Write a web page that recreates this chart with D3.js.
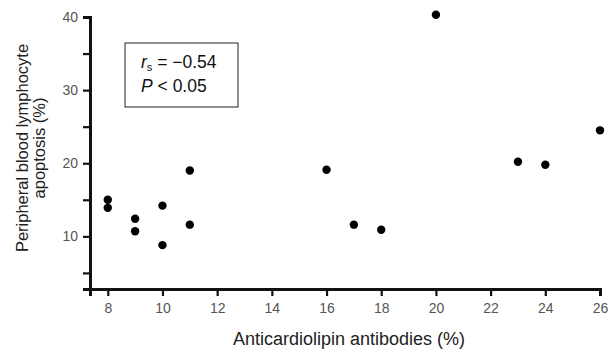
<!DOCTYPE html>
<html>
<head>
<meta charset="utf-8">
<script src="https://cdn.jsdelivr.net/npm/d3@7"></script>
<style>
	body { margin: 0; background: #fff; }
	svg { font-family: "Liberation Sans", Arial, sans-serif; }
</style>
</head>
<body>
<div id="chart"></div>
<script>
// Data
const antibodies = [8, 8, 9, 9, 10, 10, 11, 11, 16, 17, 18, 20, 23, 24, 26];
const apoptosis = [15, 13.9, 12.4, 10.7, 14.2, 8.8, 11.6, 19, 19.1, 11.6, 10.9, 40.3, 20.2, 19.8, 24.5];
const xTicks = [8, 10, 12, 14, 16, 18, 20, 22, 24, 26];
const yTicks = [10, 20, 30, 40];
const yMinorTicks = [5, 15, 25, 35];

const width = 612;
const height = 352;

const points = antibodies.map((a, i) => ({x: a, y: apoptosis[i]}));

const xScale = d3.scaleLinear()
	.domain([7.35, 26])
	.range([90, 600]);

const yScale = d3.scaleLinear()
	.domain([2.8, 40])
	.range([289, 17]);

const svg = d3.select('#chart')
	.append('svg')
	.attr('width', width)
	.attr('height', height);

// x-axis
svg.append('g')
	.attr('transform', `translate(0, ${yScale.range()[0]})`)
	.call(d3.axisBottom(xScale).tickValues(xTicks).tickSizeOuter(0).tickSize(7).tickPadding(7));

// y-axis, minor ticks first
svg.append('g')
	.attr('transform', `translate(${xScale.range()[0]}, 0)`)
	.call(d3.axisLeft(yScale).tickValues(yMinorTicks).tickFormat('').tickSizeOuter(0).tickSize(7));

svg.append('g')
	.attr('transform', `translate(${xScale.range()[0]}, 0)`)
	.call(d3.axisLeft(yScale).tickValues(yTicks).tickSizeOuter(0).tickSize(7).tickPadding(5));

svg.selectAll('.domain')
	.attr('stroke', '#111')
	.attr('stroke-width', 3);
svg.selectAll('.tick line')
	.attr('stroke', '#111')
	.attr('stroke-width', 2.2);
svg.selectAll('.tick text')
	.attr('fill', '#555')
	.attr('font-size', 14)
	.attr('font-family', '"Liberation Sans", Arial, sans-serif');

// axis titles
svg.append('text')
	.attr('x', 349)
	.attr('y', 345)
	.attr('text-anchor', 'middle')
	.attr('font-size', 18)
	.attr('fill', '#222')
	.text('Anticardiolipin antibodies (%)');

const yTitle = svg.append('text')
	.attr('transform', 'translate(28, 148) rotate(-90)')
	.attr('text-anchor', 'middle')
	.attr('font-size', 16.5)
	.attr('fill', '#222');
yTitle.append('tspan').attr('x', 0).attr('y', 0).text('Peripheral blood lymphocyte');
yTitle.append('tspan').attr('x', 0).attr('y', 17).text('apoptosis (%)');

// stats box
svg.append('rect')
	.attr('x', 125)
	.attr('y', 43)
	.attr('width', 113)
	.attr('height', 64)
	.attr('fill', 'none')
	.attr('stroke', '#222')
	.attr('stroke-width', 1);

const rs = svg.append('text')
	.attr('x', 141)
	.attr('y', 68)
	.attr('font-size', 17.5)
	.attr('fill', '#111');
rs.append('tspan').attr('font-style', 'italic').text('r');
rs.append('tspan').attr('font-size', 11).attr('dy', 3).text('s');
rs.append('tspan').attr('dy', -3).text(' = \u22120.54');

const p = svg.append('text')
	.attr('x', 141)
	.attr('y', 92)
	.attr('font-size', 17.5)
	.attr('fill', '#111');
p.append('tspan').attr('font-style', 'italic').text('P');
p.append('tspan').text(' < 0.05');

// points
svg.selectAll('circle')
	.data(points)
	.enter()
	.append('circle')
		.attr('cx', (d) => xScale(d.x))
		.attr('cy', (d) => yScale(d.y))
		.attr('r', 4.2)
		.attr('fill', '#000');
</script>
</body>
</html>
